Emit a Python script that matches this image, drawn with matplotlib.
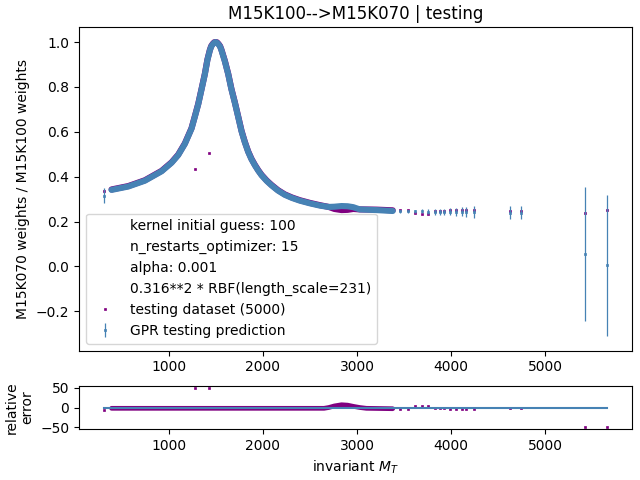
import matplotlib
matplotlib.use("Agg")
import matplotlib.pyplot as plt
from matplotlib.lines import Line2D

# dense part of the test set (points overlap into a thick band)
x_dense = [391, 568, 745, 923, 1029, 1099, 1170, 1241, 1275, 1312, 1348, 1383,
           1410, 1436, 1450, 1466, 1482, 1497, 1512, 1528, 1545, 1560, 1595,
           1631, 1665, 1702, 1738, 1773, 1808, 1843, 1878, 1914, 1950, 1986,
           2040, 2092, 2160, 2233, 2310, 2393, 2500, 2605, 2700, 2760, 2836,
           2900, 2960, 3030, 3208, 3380]
pred_dense = [0.341, 0.356, 0.382, 0.424, 0.462, 0.496, 0.546, 0.614, 0.665,
              0.722, 0.790, 0.857, 0.920, 0.963, 0.980, 0.990, 0.997, 1.000,
              0.997, 0.990, 0.980, 0.963, 0.915, 0.857, 0.790, 0.729, 0.665,
              0.602, 0.553, 0.511, 0.478, 0.451, 0.427, 0.406, 0.381, 0.361,
              0.338, 0.319, 0.305, 0.293, 0.281, 0.271, 0.265, 0.266, 0.269,
              0.268, 0.264, 0.254, 0.251, 0.247]
true_dense = [0.343, 0.358, 0.384, 0.426, 0.464, 0.498, 0.548, 0.616, 0.667,
              0.724, 0.792, 0.859, 0.922, 0.965, 0.982, 0.992, 0.999, 1.000,
              0.999, 0.992, 0.982, 0.965, 0.917, 0.859, 0.792, 0.731, 0.667,
              0.604, 0.555, 0.513, 0.480, 0.453, 0.429, 0.408, 0.383, 0.363,
              0.340, 0.321, 0.307, 0.295, 0.283, 0.273, 0.265, 0.256, 0.251,
              0.252, 0.256, 0.254, 0.253, 0.250]

# isolated / sparse points
x_sparse = [312, 1280, 1429, 3455, 3541, 3615, 3690, 3753, 3827, 3880, 3923,
            3987, 4051, 4114, 4156, 4245, 4628, 4745, 5425, 5659]
true_sparse = [0.334, 0.435, 0.505, 0.252, 0.252, 0.236, 0.234, 0.235, 0.248,
               0.248, 0.248, 0.250, 0.250, 0.250, 0.250, 0.250, 0.245, 0.245,
               0.239, 0.253]
pred_sparse = [0.316, None, None, 0.245, 0.245, 0.245, 0.245, 0.244, 0.243,
               0.243, 0.243, 0.243, 0.243, 0.243, 0.243, 0.243, 0.240, 0.240,
               0.054, 0.005]
err_sparse = [0.035, None, None, 0.006, 0.007, 0.008, 0.009, 0.010, 0.012,
              0.013, 0.014, 0.016, 0.018, 0.020, 0.021, 0.028, 0.030, 0.030,
              0.298, 0.315]

# relative error panel
res_x_dense = [391, 800, 1200, 1600, 2000, 2400, 2650, 2700, 2760, 2836, 2900,
               2960, 3030, 3100, 3380]
res_dense = [-2, -2, -2, -2, -2, -2, -2, 0, 4, 7, 6, 3, 0, -2, -3]
res_sparse = [-5, 50, 50, -3, -3, 4, 5, 4, -2, -2, -2, -3, -3, -3, -3, -3, -2,
              -2, -50, -50]

legend_info = ["kernel initial guess: 100", "n_restarts_optimizer: 15",
               "alpha: 0.001", "0.316**2 * RBF(length_scale=231)"]

c_true = "purple"
c_pred = "steelblue"

fig = plt.figure(figsize=(6.4, 4.8), dpi=100)
ax = fig.add_axes([0.1234, 0.2696, 0.8645, 0.6733])
ax2 = fig.add_axes([0.1234, 0.1056, 0.8645, 0.0908], sharex=ax)

# main panel
ax.plot(x_dense, true_dense, color=c_true, lw=4.4, solid_capstyle="round",
        solid_joinstyle="round")
ax.plot(x_sparse, true_sparse, "s", color=c_true, ms=2, mew=0.5)
px = [x for x, p in zip(x_sparse, pred_sparse) if p is not None]
py = [p for p in pred_sparse if p is not None]
pe = [e for e in err_sparse if e is not None]
ax.plot(x_dense, pred_dense, color=c_pred, lw=4.4, solid_capstyle="round",
        solid_joinstyle="round")
ax.errorbar(px, py, yerr=pe, fmt="s", color=c_pred, ms=2, mew=0.5,
            elinewidth=0.9)

handles = [Line2D([], [], linestyle="none") for _ in legend_info]
handles.append(Line2D([], [], marker="s", ms=2, mew=0.5, color=c_true,
                      linestyle="none"))
eb = ax.errorbar([], [], yerr=[], fmt="s", color=c_pred, ms=2, mew=0.5,
                 elinewidth=0.9)
handles.append(eb)
labels = legend_info + ["testing dataset (5000)", "GPR testing prediction"]
ax.legend(handles, labels, loc="lower left")

ax.set_title("M15K100-->M15K070 | testing")
ax.set_ylabel("M15K070 weights / M15K100 weights")

# relative error panel
ax2.plot(res_x_dense, res_dense, color=c_true, lw=3.4, solid_capstyle="round")
ax2.plot(x_sparse, res_sparse, "s", color=c_true, ms=2, mew=0.5)
ax2.plot([x_sparse[0], x_sparse[-1]], [0, 0], color=c_pred, lw=1.5)
ax2.set_yticks([-50, 0, 50])
ax2.set_ylabel("relative\nerror")
ax2.set_xlabel("invariant $M_T$")

fig.savefig("out.png", dpi=100)
